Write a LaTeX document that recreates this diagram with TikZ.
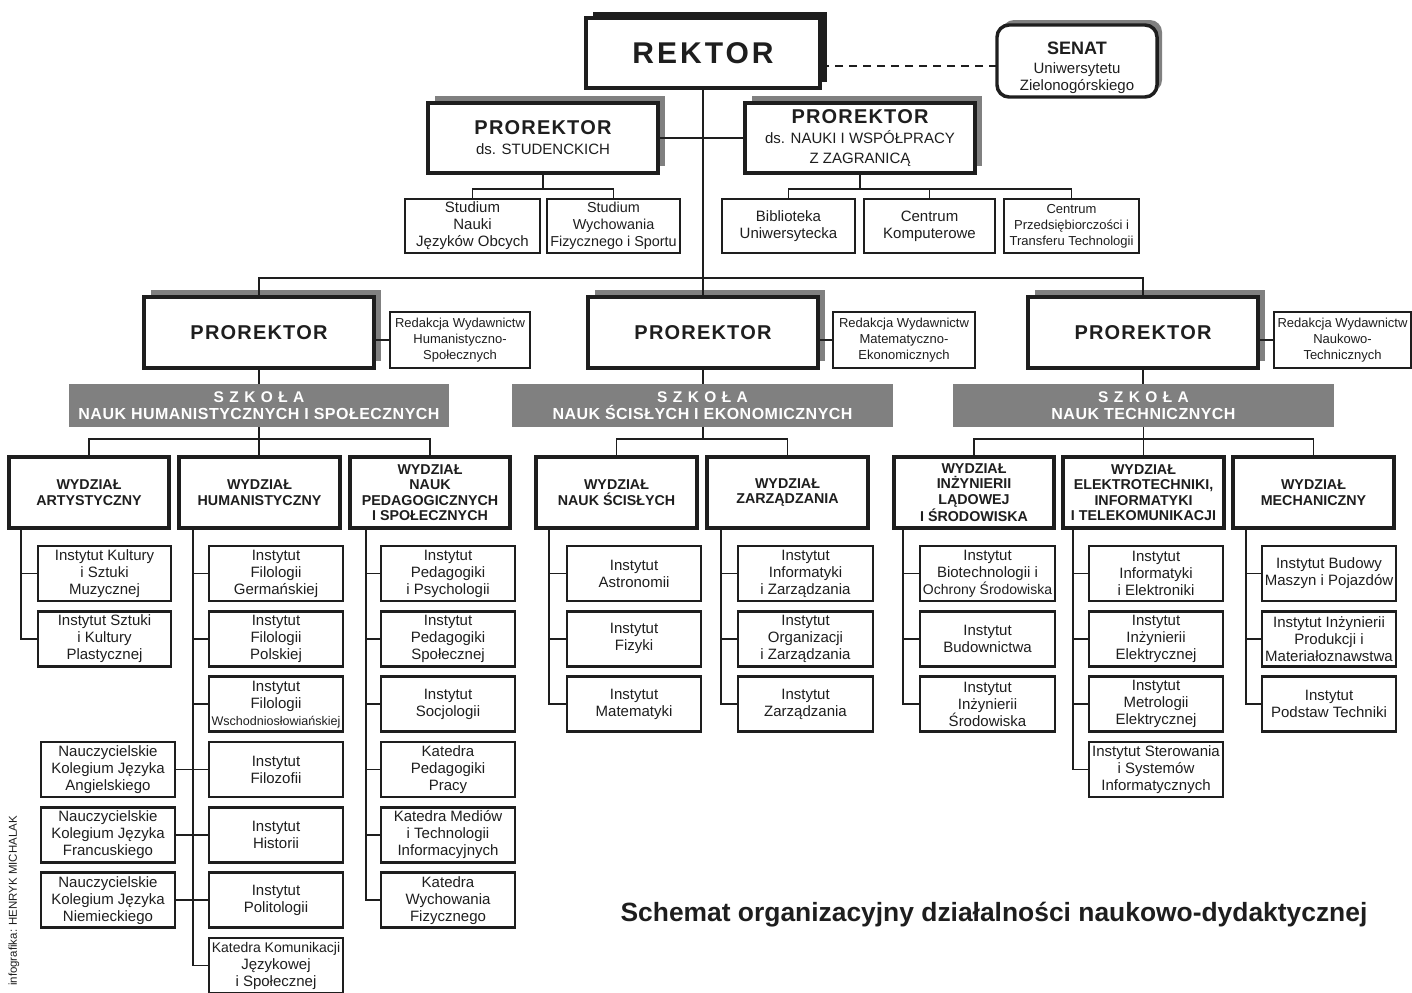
\documentclass[tikz,border=0pt]{standalone}
\usepackage{fontspec}
\setmainfont{Liberation Sans}
\usetikzlibrary{shadows}
\definecolor{shade}{HTML}{808080}
\definecolor{ink}{HTML}{1E1E1E}
\begin{document}
\begin{tikzpicture}[x=0.75pt,y=-0.75pt,
  sz/.style 2 args={minimum width=#1*0.75pt, minimum height=#2*0.75pt},
  base/.style={draw=ink, text=ink, anchor=north west, inner sep=0pt, outer sep=0pt, align=center, fill=white},
  inst/.style={base, line width=1.9pt, font=\fontsize{11.25}{12.75}\selectfont},
  small/.style={base, line width=1.9pt, font=\fontsize{9.75}{12}\selectfont},
  wyd/.style={base, line width=2.6pt, font=\fontsize{10.7}{11.6}\selectfont\bfseries},
  prb/.style={base, line width=3pt, general shadow={fill=shade, shadow xshift=5.25pt, shadow yshift=5.25pt}, font=\fontsize{11.25}{15}\selectfont},
  prbig/.style={prb, font=\bfseries\fontsize{15}{17}\selectfont\addfontfeatures{LetterSpace=6}},
  szk/.style={anchor=north west, fill=shade, text=white, inner sep=0pt, outer sep=0pt, align=center, font=\bfseries\fontsize{12}{12.75}\selectfont\addfontfeatures{LetterSpace=3}},
  plain/.style={text=ink, inner sep=0pt, align=center},
  conn/.style={draw=ink, line width=1.4pt}]
\useasboundingbox (0,0) rectangle (1412,992);

% ---------- top level ----------
\node[base, line width=3pt, sz={234}{70}, general shadow={fill=ink, shadow xshift=5.25pt, shadow yshift=4.5pt},
  font=\fontsize{22.5}{27}\selectfont\bfseries\addfontfeatures{LetterSpace=10}] (rektor) at (586,18) {REKTOR};
\node[base, line width=2.6pt, sz={160}{72}, rounded corners=9pt, general shadow={fill=shade, shadow xshift=3.75pt, shadow yshift=3.75pt}] (senat) at (997,25) {};
\node[plain, font=\fontsize{11.25}{12.75}\selectfont] (senattxt) at (1077,68) {{\bfseries\fontsize{13.5}{15}\selectfont SENAT}\\[1.5pt]Uniwersytetu\\Zielonogórskiego};

\node[prb, sz={230}{70}] (pS) at (428,103) {{\bfseries\fontsize{15}{17}\selectfont\addfontfeatures{LetterSpace=6}PROREKTOR}\\ds. STUDENCKICH};
\node[prb, sz={230}{70}] (pN) at (745,103) {{\bfseries\fontsize{15}{17}\selectfont\addfontfeatures{LetterSpace=6}PROREKTOR}\\ds. NAUKI I WSPÓŁPRACY\\Z ZAGRANICĄ};

\node[inst, sz={135}{54}] (stud1) at (405,199) {Studium\\Nauki\\Języków Obcych};
\node[inst, sz={133}{54}, font=\fontsize{10.8}{12.75}\selectfont] (stud2) at (547,199) {Studium\\Wychowania\\Fizycznego i Sportu};
\node[inst, sz={133}{54}] (bib) at (722,199) {Biblioteka\\Uniwersytecka};
\node[inst, sz={131}{54}] (ck) at (864,199) {Centrum\\Komputerowe};
\node[small, sz={135}{54}] (ctp) at (1004,199) {Centrum\\Przedsiębiorczości i\\Transferu Technologii};

% ---------- prorektors ----------
\node[prbig, sz={230}{71}] (pr1) at (144,297) {PROREKTOR};
\node[prbig, sz={230}{71}] (pr2) at (588,297) {PROREKTOR};
\node[prbig, sz={230}{71}] (pr3) at (1028,297) {PROREKTOR};

\node[small, sz={140}{56}] (red1) at (390,312) {Redakcja Wydawnictw\\Humanistyczno-\\Społecznych};
\node[small, sz={142}{56}] (red2) at (833,312) {Redakcja Wydawnictw\\Matematyczno-\\Ekonomicznych};
\node[small, sz={137}{56}] (red3) at (1274,312) {Redakcja Wydawnictw\\Naukowo-\\Technicznych};

\node[szk, sz={380}{43}] (sz1) at (69,384) {{\addfontfeatures{LetterSpace=35}\fontsize{11.6}{12.75}\selectfont SZKOŁA}\\NAUK HUMANISTYCZNYCH I SPOŁECZNYCH};
\node[szk, sz={381}{43}] (sz2) at (512,384) {{\addfontfeatures{LetterSpace=35}\fontsize{11.6}{12.75}\selectfont SZKOŁA}\\NAUK ŚCISŁYCH I EKONOMICZNYCH};
\node[szk, sz={381}{43}] (sz3) at (953,384) {{\addfontfeatures{LetterSpace=35}\fontsize{11.6}{12.75}\selectfont SZKOŁA}\\NAUK TECHNICZNYCH};

% ---------- faculties ----------
\node[wyd, sz={160}{71}] (W1) at (9,457) {WYDZIAŁ\\ARTYSTYCZNY};
\node[wyd, sz={161}{71}] (W2) at (179,457) {WYDZIAŁ\\HUMANISTYCZNY};
\node[wyd, sz={160}{71}] (W3) at (350,457) {WYDZIAŁ\\NAUK\\PEDAGOGICZNYCH\\I SPOŁECZNYCH};
\node[wyd, sz={161}{71}] (W4) at (536,457) {WYDZIAŁ\\NAUK ŚCISŁYCH};
\node[wyd, sz={161}{71}] (W5) at (707,457) {WYDZIAŁ\\ZARZĄDZANIA};
\node[wyd, sz={160}{71}] (W6) at (894,457) {WYDZIAŁ\\INŻYNIERII\\LĄDOWEJ\\I ŚRODOWISKA};
\node[wyd, sz={161}{71}] (W7) at (1063,457) {WYDZIAŁ\\ELEKTROTECHNIKI,\\INFORMATYKI\\I TELEKOMUNIKACJI};
\node[wyd, sz={161}{71}] (W8) at (1233,457) {WYDZIAŁ\\MECHANICZNY};

% ---------- institutes ----------
\node[inst, sz={133}{55}] (i11) at (38,546) {Instytut Kultury\\i Sztuki\\Muzycznej};
\node[inst, sz={133}{55}] (i12) at (38,611.3) {Instytut Sztuki\\i Kultury\\Plastycznej};

\node[inst, sz={134}{55}] (i21) at (209,546) {Instytut\\Filologii\\Germańskiej};
\node[inst, sz={134}{55}] (i22) at (209,611.3) {Instytut\\Filologii\\Polskiej};
\node[inst, sz={134}{55}] (i23) at (209,676.7) {Instytut\\Filologii\\{\fontsize{9.4}{12.75}\selectfont Wschodniosłowiańskiej}};
\node[inst, sz={134}{55}] (i24) at (209,742) {Instytut\\Filozofii};
\node[inst, sz={134}{55}] (i25) at (209,807.3) {Instytut\\Historii};
\node[inst, sz={134}{55}] (i26) at (209,872.7) {Instytut\\Politologii};
\node[inst, sz={134}{55}] (i27) at (209,938) {{\fontsize{10.5}{12.75}\selectfont Katedra Komunikacji}\\Językowej\\i Społecznej};

\node[inst, sz={134}{55}] (nk1) at (41,742) {Nauczycielskie\\Kolegium Języka\\Angielskiego};
\node[inst, sz={134}{55}] (nk2) at (41,807.3) {Nauczycielskie\\Kolegium Języka\\Francuskiego};
\node[inst, sz={134}{55}] (nk3) at (41,872.7) {Nauczycielskie\\Kolegium Języka\\Niemieckiego};

\node[inst, sz={134}{55}] (i31) at (381,546) {Instytut\\Pedagogiki\\i Psychologii};
\node[inst, sz={134}{55}] (i32) at (381,611.3) {Instytut\\Pedagogiki\\Społecznej};
\node[inst, sz={134}{55}] (i33) at (381,676.7) {Instytut\\Socjologii};
\node[inst, sz={134}{55}] (i34) at (381,742) {Katedra\\Pedagogiki\\Pracy};
\node[inst, sz={134}{55}] (i35) at (381,807.3) {Katedra Mediów\\i Technologii\\Informacyjnych};
\node[inst, sz={134}{55}] (i36) at (381,872.7) {Katedra\\Wychowania\\Fizycznego};

\node[inst, sz={134}{55}] (i41) at (567,546) {Instytut\\Astronomii};
\node[inst, sz={134}{55}] (i42) at (567,611.3) {Instytut\\Fizyki};
\node[inst, sz={134}{55}] (i43) at (567,676.7) {Instytut\\Matematyki};

\node[inst, sz={135}{55}] (i51) at (738,546) {Instytut\\Informatyki\\i Zarządzania};
\node[inst, sz={135}{55}] (i52) at (738,611.3) {Instytut\\Organizacji\\i Zarządzania};
\node[inst, sz={135}{55}] (i53) at (738,676.7) {Instytut\\Zarządzania};

\node[inst, sz={135}{55}] (i61) at (920,546) {Instytut\\Biotechnologii i\\{\fontsize{10.5}{12.75}\selectfont Ochrony Środowiska}};
\node[inst, sz={135}{55}] (i62) at (920,611.3) {Instytut\\Budownictwa};
\node[inst, sz={135}{55}] (i63) at (920,676.7) {Instytut\\Inżynierii\\Środowiska};

\node[inst, sz={134}{55}] (i71) at (1089,546) {Instytut\\Informatyki\\i Elektroniki};
\node[inst, sz={134}{55}] (i72) at (1089,611.3) {Instytut\\Inżynierii\\Elektrycznej};
\node[inst, sz={134}{55}] (i73) at (1089,676.7) {Instytut\\Metrologii\\Elektrycznej};
\node[inst, sz={134}{55}] (i74) at (1089,742) {Instytut Sterowania\\i Systemów\\Informatycznych};

\node[inst, sz={134}{55}] (i81) at (1262,546) {Instytut Budowy\\Maszyn i Pojazdów};
\node[inst, sz={134}{55}] (i82) at (1262,611.3) {Instytut Inżynierii\\Produkcji i\\Materiałoznawstwa};
\node[inst, sz={134}{55}] (i83) at (1262,676.7) {Instytut\\Podstaw Techniki};

% ---------- texts ----------
\node[plain, font=\bfseries\fontsize{19.8}{24}\selectfont] (title) at (994,915) {Schemat organizacyjny działalności naukowo-dydaktycznej};
\node[plain, rotate=90, font=\fontsize{8.6}{10}\selectfont] (credit) at (14,901) {infografika: HENRYK MICHALAK};

% ---------- connectors ----------
\coordinate (hub) at (703,278);
\coordinate (jS) at (543,189);
\coordinate (jN) at (860,189);
\coordinate (j1) at (259,439);
\coordinate (j2) at (703,439);
\coordinate (j3) at (1143.5,439);
\coordinate (s1) at (21,528);
\coordinate (s2) at (193,528);
\coordinate (s3) at (366,528);
\coordinate (s4) at (549,528);
\coordinate (s5) at (721,528);
\coordinate (s6) at (903,528);
\coordinate (s7) at (1073,528);
\coordinate (s8) at (1246,528);

\draw[conn, dashed, dash pattern=on 6pt off 4.5pt] ([yshift=-3.75pt]senat.west) -- ([yshift=-3.75pt]senat.west -| rektor.east);
\draw[conn] (rektor.south) -- (rektor.south |- pr2.north);
\draw[conn] (pS.east) -- (pN.west);
\draw[conn] (pS.south) -- (jS);
\draw[conn] (stud1.north) |- (jS) -| (stud2.north);
\draw[conn] (pN.south) -- (jN);
\draw[conn] (bib.north) |- (jN) -| (ctp.north);
\draw[conn] (ck.north) -- (ck.north |- jN);
\draw[conn] (pr1.north) |- (hub) -| (pr3.north);
\draw[conn] (red1.west) -- (red1.west -| pr1.east);
\draw[conn] (red2.west) -- (red2.west -| pr2.east);
\draw[conn] (red3.west) -- (red3.west -| pr3.east);
\draw[conn] (pr1.south) -- (pr1.south |- sz1.north);
\draw[conn] (pr2.south) -- (pr2.south |- sz2.north);
\draw[conn] (pr3.south) -- (pr3.south |- sz3.north);
\draw[conn] (j1 |- sz1.south) -- (j1 |- W2.north);
\draw[conn] (W1.north) |- (j1) -| (W3.north);
\draw[conn] (j2 |- sz2.south) -- (j2);
\draw[conn] (W4.north) |- (j2) -| (W5.north);
\draw[conn] (j3 |- sz3.south) -- (j3 |- W7.north);
\draw[conn] (W6.north) |- (j3) -| (W8.north);

\draw[conn] (s1) |- (i12.west);
\draw[conn] (i11.west) -- (i11.west -| s1);
\draw[conn] (s2) |- (i27.west);
\foreach \n in {i21,i22,i23,i24,i25,i26} \draw[conn] (\n.west) -- (\n.west -| s2);
\draw[conn] (nk1.east) -- (i24.west);
\draw[conn] (nk2.east) -- (i25.west);
\draw[conn] (nk3.east) -- (i26.west);
\draw[conn] (s3) |- (i36.west);
\foreach \n in {i31,i32,i33,i34,i35} \draw[conn] (\n.west) -- (\n.west -| s3);
\draw[conn] (s4) |- (i43.west);
\foreach \n in {i41,i42} \draw[conn] (\n.west) -- (\n.west -| s4);
\draw[conn] (s5) |- (i53.west);
\foreach \n in {i51,i52} \draw[conn] (\n.west) -- (\n.west -| s5);
\draw[conn] (s6) |- (i63.west);
\foreach \n in {i61,i62} \draw[conn] (\n.west) -- (\n.west -| s6);
\draw[conn] (s7) |- (i74.west);
\foreach \n in {i71,i72,i73} \draw[conn] (\n.west) -- (\n.west -| s7);
\draw[conn] (s8) |- (i83.west);
\foreach \n in {i81,i82} \draw[conn] (\n.west) -- (\n.west -| s8);
\end{tikzpicture}
\end{document}
